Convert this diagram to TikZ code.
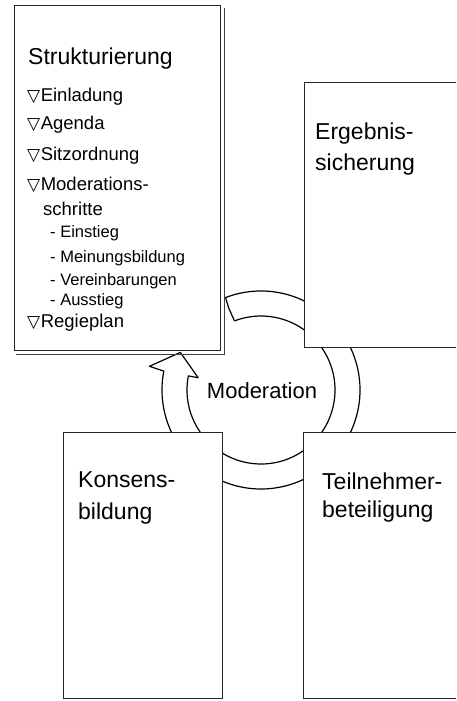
\documentclass[tikz,border=0pt]{standalone}
\usepackage{fontspec}
\setmainfont{Liberation Sans}
\newfontfamily\symf{DejaVu Sans}
\newcommand{\tri}{{\symf\fontsize{17}{17}\selectfont\raisebox{0.5pt}{▽}}\hspace{0.5pt}}
\tikzset{
  boxst/.style={draw=black!85, line width=1.1pt, fill=white, inner sep=0pt, anchor=north west},
  shadowst/.style={draw=black!75, line width=1pt},
  ringst/.style={draw=black, line width=1.2pt, fill=white, line join=round},
  ttl/.style={anchor=base west, inner sep=0pt, font=\fontsize{23}{23}\selectfont},
  itm/.style={anchor=base west, inner sep=0pt, font=\fontsize{18.5}{18.5}\selectfont},
  subitm/.style={anchor=base west, inner sep=0pt, font=\fontsize{16.5}{16.5}\selectfont},
  modst/.style={inner sep=0pt, font=\fontsize{22}{22}\selectfont}
}
\begin{document}
\begin{tikzpicture}[x=1pt,y=1pt]
\clip (0,0) rectangle (456,701);
\fill[white] (0,0) rectangle (456,701);
% ring arrow
\coordinate (c) at (261,311);
\draw[ringst, shift={(c)}] (111:99) arc[start angle=111, end angle=-191, radius=99]
   -- (-192:114) -- (-205:89) -- (-191:64) -- (-191:74)
   arc[start angle=-191, end angle=111, radius=74] -- (111.5:88) -- cycle;
\node[modst] (mod) at (262,310) {Moderation};
% boxes
\node[boxst, minimum width=206pt, minimum height=345pt] (tl) at (14,696) {};
\draw[shadowst] ([xshift=3.5pt,yshift=-3pt]tl.north east) -- ([xshift=3.5pt,yshift=-3.5pt]tl.south east) -- ([xshift=2pt,yshift=-3.5pt]tl.south west);
\node[boxst, minimum width=160pt, minimum height=265pt] (tr) at (304,619) {};
\node[boxst, minimum width=159pt, minimum height=266pt] (bl) at (63,269) {};
\node[boxst, minimum width=160pt, minimum height=266pt] (br) at (303,269) {};
% texts top-left
\node[ttl] (t1) at (28,636) {Strukturierung};
\node[itm] (i1) at (27,599) {\tri Einladung};
\node[itm] (i2) at (27,571) {\tri Agenda};
\node[itm] (i3) at (27,540) {\tri Sitzordnung};
\node[itm] (i4) at (27,510) {\tri Moderations-};
\node[itm] (i5) at (43,485) {schritte};
\node[subitm] (s1) at (50,463) {- Einstieg};
\node[subitm] (s2) at (50,438) {- Meinungsbildung};
\node[subitm] (s3) at (50,415) {- Vereinbarungen};
\node[subitm] (s4) at (50,395) {- Ausstieg};
\node[itm] (i6) at (27,373) {\tri Regieplan};
% other boxes
\node[ttl] (e1) at (315,561) {Ergebnis-};
\node[ttl] (e2) at (315,530) {sicherung};
\node[ttl] (k1) at (78,213) {Konsens-};
\node[ttl] (k2) at (78,181) {bildung};
\node[ttl] (p1) at (322,211) {Teilnehmer-};
\node[ttl] (p2) at (322,183) {beteiligung};
\end{tikzpicture}
\end{document}
